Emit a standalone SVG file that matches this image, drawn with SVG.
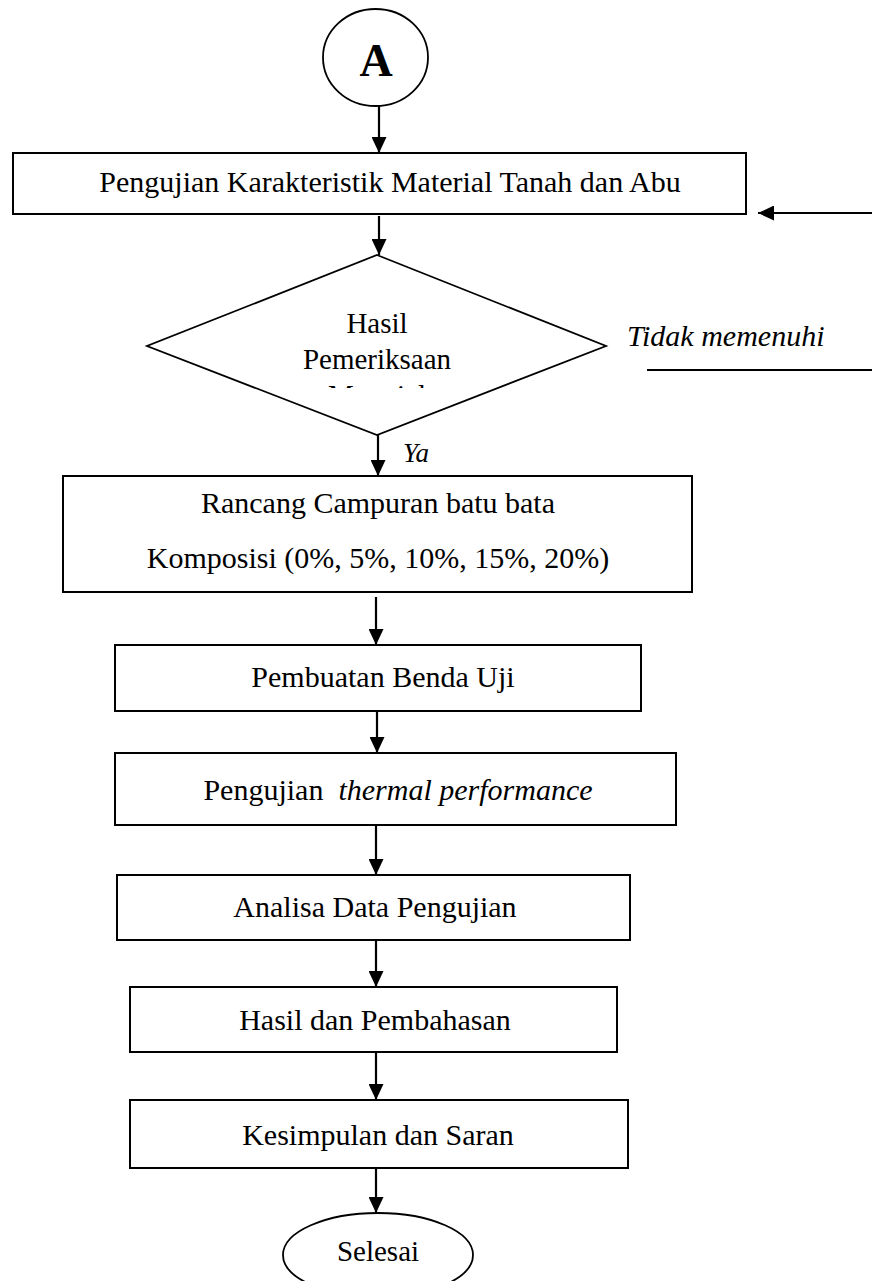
<svg xmlns="http://www.w3.org/2000/svg" width="872" height="1281" viewBox="0 0 872 1281">
<style>
.box{fill:#fff;stroke:#000;stroke-width:2}
.sh{fill:none;stroke:#000;stroke-width:1.8}
.t{font-family:"Liberation Serif","Times New Roman",serif;font-size:30px;fill:#000;text-anchor:middle}
.it{font-family:"Liberation Serif","Times New Roman",serif;font-size:30px;font-style:italic;fill:#000}
.c{stroke:#000;stroke-width:2.2;fill:none}
</style>
<defs>
<marker id="ah" viewBox="0 0 16 15" refX="16" refY="7.5" markerWidth="16" markerHeight="15" markerUnits="userSpaceOnUse" orient="auto">
<path d="M0,0 L16,7.5 L0,15 Z" fill="#000"/>
</marker>
<clipPath id="clipMat"><rect x="300" y="370" width="160" height="18"/></clipPath>
</defs>
<rect width="872" height="1281" fill="#fff"/>
<g id="connectors">
<line class="c" x1="379" y1="106" x2="379" y2="153" marker-end="url(#ah)"/>
<line class="c" x1="379" y1="216" x2="379" y2="255" marker-end="url(#ah)"/>
<line class="c" x1="378" y1="435" x2="378" y2="476" marker-end="url(#ah)"/>
<line class="c" x1="376" y1="597" x2="376" y2="645" marker-end="url(#ah)"/>
<line class="c" x1="377" y1="711" x2="377" y2="753" marker-end="url(#ah)"/>
<line class="c" x1="376" y1="825" x2="376" y2="875" marker-end="url(#ah)"/>
<line class="c" x1="376" y1="940" x2="376" y2="987" marker-end="url(#ah)"/>
<line class="c" x1="376" y1="1052" x2="376" y2="1100" marker-end="url(#ah)"/>
<line class="c" x1="376" y1="1168" x2="376" y2="1213" marker-end="url(#ah)"/>
<line class="c" x1="872" y1="213" x2="758" y2="213" marker-end="url(#ah)"/>
<line class="c" x1="647" y1="370" x2="872" y2="370"/>
<text class="it" x="403" y="462" style="font-size:27px">Ya</text>
<text class="it" x="627" y="346">Tidak memenuhi</text>
</g>
<g id="nodeA">
<ellipse class="sh" cx="375.5" cy="57.5" rx="52.5" ry="48.5"/>
<text class="t" x="376" y="76" style="font-size:46px;font-weight:bold">A</text>
</g>
<g id="node1">
<rect class="box" x="13" y="153" width="733" height="61"/>
<text class="t" x="390" y="192">Pengujian Karakteristik Material Tanah dan Abu</text>
</g>
<g id="decision">
<polygon class="sh" points="377,255 606,346 377,435 147,346"/>
<text class="t" x="377" y="333" style="font-size:29px">Hasil</text>
<text class="t" x="377" y="369" style="font-size:29px">Pemeriksaan</text>
<text class="t" x="377" y="405" style="font-size:29px" clip-path="url(#clipMat)">Material</text>
</g>
<g id="node2">
<rect class="box" x="63" y="476" width="629" height="116"/>
<text class="t" x="378" y="513">Rancang Campuran batu bata</text>
<text class="t" x="378" y="568">Komposisi (0%, 5%, 10%, 15%, 20%)</text>
</g>
<g id="node3">
<rect class="box" x="115" y="645" width="526" height="66"/>
<text class="t" x="383" y="687">Pembuatan Benda Uji</text>
</g>
<g id="node4">
<rect class="box" x="115" y="753" width="561" height="72"/>
<text class="t" x="398" y="800">Pengujian&#160; <tspan style="font-style:italic">thermal performance</tspan></text>
</g>
<g id="node5">
<rect class="box" x="117" y="875" width="513" height="65"/>
<text class="t" x="375" y="917">Analisa Data Pengujian</text>
</g>
<g id="node6">
<rect class="box" x="130" y="987" width="487" height="65"/>
<text class="t" x="375" y="1030">Hasil dan Pembahasan</text>
</g>
<g id="node7">
<rect class="box" x="130" y="1100" width="498" height="68"/>
<text class="t" x="378" y="1145">Kesimpulan dan Saran</text>
</g>
<g id="end">
<ellipse class="sh" cx="378" cy="1255" rx="95" ry="42"/>
<text class="t" x="378" y="1261" style="font-size:29px">Selesai</text>
</g>
</svg>
